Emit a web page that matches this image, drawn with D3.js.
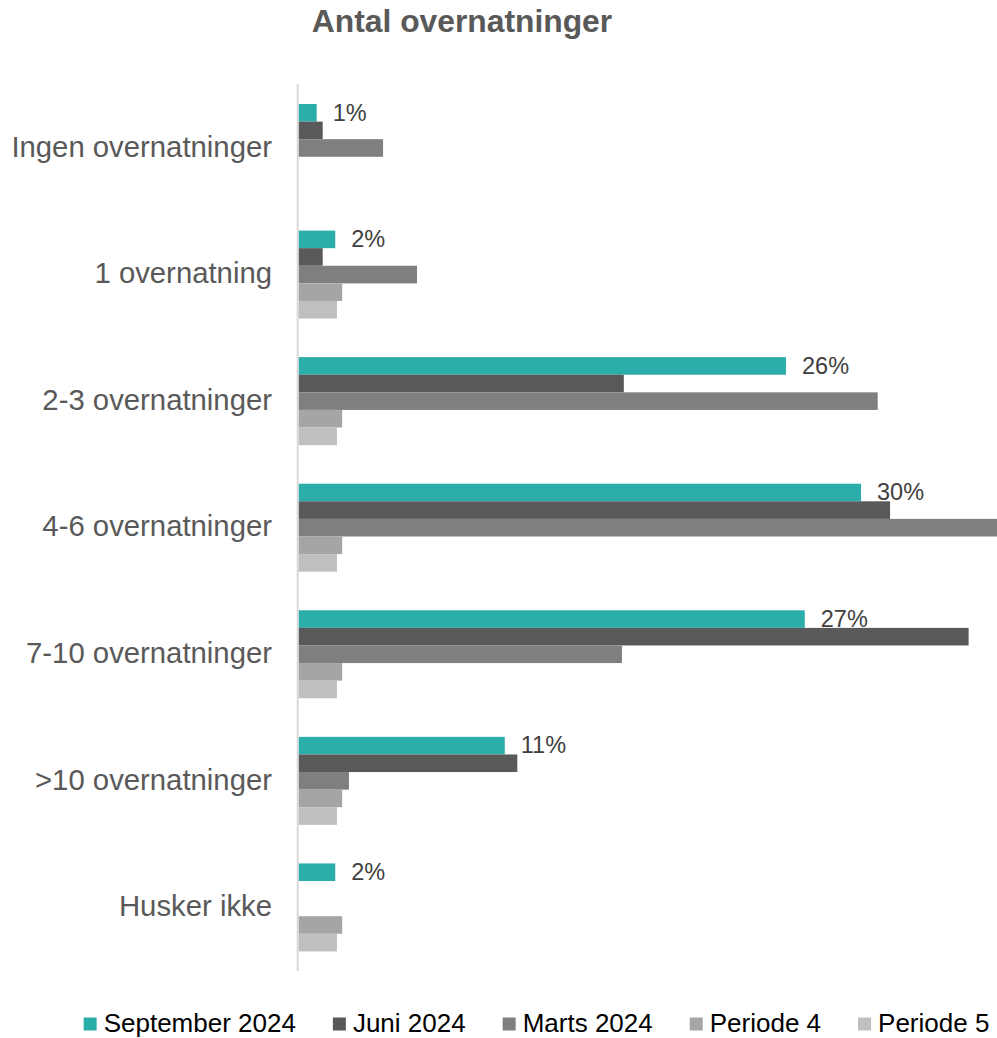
<!DOCTYPE html>
<html>
<head>
<meta charset="utf-8">
<script src="https://cdnjs.cloudflare.com/ajax/libs/d3/7.8.5/d3.min.js"></script>
<style>
  body { margin: 0; background: #fff; }
  text { font-family: Arial, "Liberation Sans", sans-serif; }
</style>
</head>
<body>
<div id="my_dataviz"></div>
<script>
// categories (top to bottom) and series
var categories = ["Ingen overnatninger", "1 overnatning", "2-3 overnatninger", "4-6 overnatninger", "7-10 overnatninger", ">10 overnatninger", "Husker ikke"]
var seriesNames = ["September 2024", "Juni 2024", "Marts 2024", "Periode 4", "Periode 5"]

// values in percent
var sep2024 = [0.97, 1.96, 26.0, 30.0, 27.0, 11.0, 1.96]
var jun2024 = [1.29, 1.29, 17.35, 31.55, 35.74, 11.67, 0]
var mar2024 = [4.51, 6.32, 30.89, 37.3, 17.25, 2.69, 0]
var periode4 = [0, 2.33, 2.33, 2.33, 2.33, 2.33, 2.33]
var periode5 = [0, 2.05, 2.05, 2.05, 2.05, 2.05, 2.05]

var colors = ["#2BADAA", "#595959", "#7F7F7F", "#A5A5A5", "#BFBFBF"]

window.onload = () => {
  var width = 997
  var height = 1038

  var svg = d3.select("#my_dataviz")
    .append("svg")
    .attr("width", width)
    .attr("height", height)

  var allSeries = [sep2024, jun2024, mar2024, periode4, periode5]

  // x: percent -> pixels (bars run off the right edge like the original)
  var x = d3.scaleLinear()
    .domain([0, 40])
    .range([298.5, 1048.5])

  // y: one band per category, inner band per series
  var y = d3.scaleBand()
    .domain(categories)
    .range([84.7, 970.7])
    .paddingInner(0.305)
    .paddingOuter(0.1525)

  var ySub = d3.scaleBand()
    .domain(seriesNames)
    .range([0, y.bandwidth()])

  // title
  svg.append("text")
    .attr("x", 462)
    .attr("y", 32)
    .attr("text-anchor", "middle")
    .style("font-size", "31.8px")
    .style("font-weight", "bold")
    .style("fill", "#595959")
    .text("Antal overnatninger")

  // build flat list of bars
  var bars = []
  categories.forEach((c, i) => {
    seriesNames.forEach((s, j) => {
      bars.push({ cat: c, series: s, idx: j, value: allSeries[j][i] })
    })
  })

  svg.append("g")
    .selectAll("rect")
    .data(bars.filter(d => d.value > 0))
    .enter()
    .append("rect")
    .attr("x", x(0))
    .attr("y", d => y(d.cat) + ySub(d.series))
    .attr("width", d => x(d.value) - x(0))
    .attr("height", ySub.bandwidth())
    .attr("fill", d => colors[d.idx])

  // vertical axis line
  svg.append("line")
    .attr("x1", x(0) - 0.8)
    .attr("x2", x(0) - 0.8)
    .attr("y1", 84)
    .attr("y2", 971)
    .attr("stroke", "#d9d9d9")
    .attr("stroke-width", 2)

  // category labels
  svg.append("g")
    .selectAll("text")
    .data(categories)
    .enter()
    .append("text")
    .attr("x", 272)
    .attr("y", d => y(d) + y.bandwidth() / 2)
    .attr("dy", "0.3em")
    .attr("text-anchor", "end")
    .style("font-size", "29.3px")
    .style("fill", "#595959")
    .text(d => d)

  // data labels, only on September 2024
  svg.append("g")
    .selectAll("text")
    .data(categories)
    .enter()
    .append("text")
    .attr("x", (d, i) => x(sep2024[i]) + 16)
    .attr("y", d => y(d) + ySub(seriesNames[0]) + ySub.bandwidth() - 1)
    .style("font-size", "23.5px")
    .style("fill", "#404040")
    .text((d, i) => Math.round(sep2024[i]) + "%")

  // legend, centred at the bottom
  var legend = svg.append("g")
  var lx = 0
  seriesNames.forEach((s, i) => {
    var item = legend.append("g").attr("transform", "translate(" + lx + ",0)")
    item.append("rect")
      .attr("x", 0)
      .attr("y", 1017.5)
      .attr("width", 13)
      .attr("height", 13)
      .attr("fill", colors[i])
    var t = item.append("text")
      .attr("x", 20)
      .attr("y", 1031.5)
      .style("font-size", "26px")
      .style("fill", "#000")
      .text(s)
    lx += 20 + t.node().getComputedTextLength() + 37
  })
  var legendWidth = lx - 37
  legend.attr("transform", "translate(" + (536.5 - legendWidth / 2) + ",0)")
}
</script>
</body>
</html>
